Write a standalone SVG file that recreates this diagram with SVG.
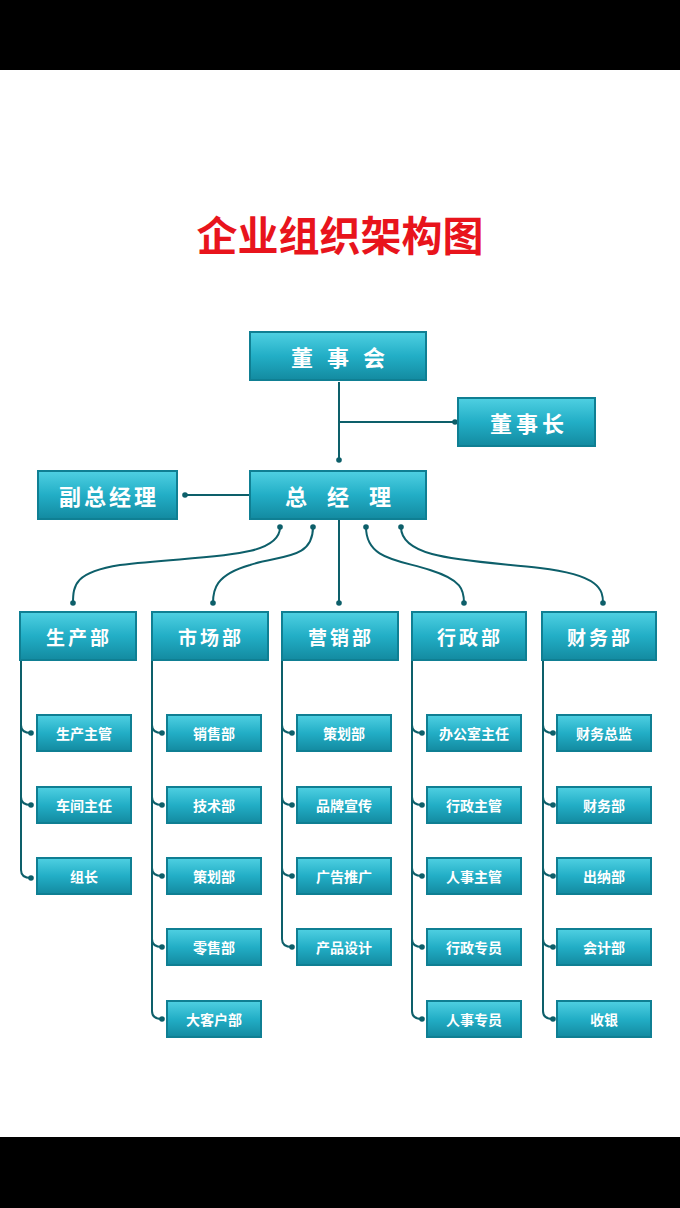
<svg xmlns="http://www.w3.org/2000/svg" width="680" height="1208" viewBox="0 0 680 1208">
<defs>
<linearGradient id="g" x1="0" y1="0" x2="0" y2="1">
<stop offset="0" stop-color="#4fd0e2"/><stop offset="0.5" stop-color="#22aec6"/><stop offset="1" stop-color="#138aa0"/>
</linearGradient>
<marker id="d" markerWidth="6" markerHeight="6" refX="3" refY="3" markerUnits="userSpaceOnUse"><circle cx="3" cy="3" r="2.8" fill="#0d5f6a"/></marker>
</defs>
<style>
.b{fill:url(#g);stroke:#0f7f93;stroke-width:2}
.t{font-family:"Noto Sans CJK SC","Noto Sans",sans-serif;font-weight:bold;fill:#fff;text-anchor:middle;dominant-baseline:central}
.L{font-size:22px}.S{font-size:14px}.M{font-size:19px}
.c{fill:none;stroke:#0d5f6a;stroke-width:2}
</style>
<rect width="680" height="1208" fill="#fff"/>
<rect width="680" height="70" fill="#000"/>
<rect y="1137" width="680" height="71" fill="#000"/>
<text x="340" y="233" font-family="Noto Sans CJK SC,sans-serif" font-weight="bold" font-size="41" fill="#e8141c" text-anchor="middle" dominant-baseline="central">企业组织架构图</text>
<g id="connectors">
<path class="c" d="M339 382V460" marker-end="url(#d)"/>
<path class="c" d="M339 422H455" marker-end="url(#d)"/>
<path class="c" d="M250 495H185" marker-end="url(#d)"/>
<path class="c" d="M280 527C280 560 200 555 120 565C75 572 73 585 73 603" marker-start="url(#d)" marker-end="url(#d)"/>
<path class="c" d="M313 527C313 560 280 555 250 565C215 575 213 590 213 603" marker-start="url(#d)" marker-end="url(#d)"/>
<path class="c" d="M339 519V603" marker-end="url(#d)"/>
<path class="c" d="M366 527C366 560 400 560 430 570C462 580 464 590 464 603" marker-start="url(#d)" marker-end="url(#d)"/>
<path class="c" d="M401 527C401 560 470 560 540 568C600 575 603 590 603 603" marker-start="url(#d)" marker-end="url(#d)"/>
<path class="c" d="M21 660V870Q21 878 31 878" marker-end="url(#d)"/>
<path class="c" d="M21 725Q21 733 31 733" marker-end="url(#d)"/>
<path class="c" d="M21 797Q21 805 31 805" marker-end="url(#d)"/>
<path class="c" d="M152 660V1011Q152 1019 162 1019" marker-end="url(#d)"/>
<path class="c" d="M152 725Q152 733 162 733" marker-end="url(#d)"/>
<path class="c" d="M152 797Q152 805 162 805" marker-end="url(#d)"/>
<path class="c" d="M152 868Q152 876 162 876" marker-end="url(#d)"/>
<path class="c" d="M152 939Q152 947 162 947" marker-end="url(#d)"/>
<path class="c" d="M282 660V939Q282 947 292 947" marker-end="url(#d)"/>
<path class="c" d="M282 725Q282 733 292 733" marker-end="url(#d)"/>
<path class="c" d="M282 797Q282 805 292 805" marker-end="url(#d)"/>
<path class="c" d="M282 868Q282 876 292 876" marker-end="url(#d)"/>
<path class="c" d="M412 660V1011Q412 1019 422 1019" marker-end="url(#d)"/>
<path class="c" d="M412 725Q412 733 422 733" marker-end="url(#d)"/>
<path class="c" d="M412 797Q412 805 422 805" marker-end="url(#d)"/>
<path class="c" d="M412 868Q412 876 422 876" marker-end="url(#d)"/>
<path class="c" d="M412 939Q412 947 422 947" marker-end="url(#d)"/>
<path class="c" d="M543 660V1011Q543 1019 553 1019" marker-end="url(#d)"/>
<path class="c" d="M543 725Q543 733 553 733" marker-end="url(#d)"/>
<path class="c" d="M543 797Q543 805 553 805" marker-end="url(#d)"/>
<path class="c" d="M543 868Q543 876 553 876" marker-end="url(#d)"/>
<path class="c" d="M543 939Q543 947 553 947" marker-end="url(#d)"/>
</g>
<g id="n-board"><rect class="b" x="250" y="332" width="176" height="48"/><text class="t L" x="345" y="356" letter-spacing="14">董事会</text></g>
<g id="n-chair"><rect class="b" x="458" y="398" width="137" height="48"/><text class="t L" x="529" y="422" letter-spacing="4">董事长</text></g>
<g id="n-gm"><rect class="b" x="250" y="471" width="176" height="48"/><text class="t L" x="348" y="495" letter-spacing="20">总经理</text></g>
<g id="n-vgm"><rect class="b" x="38" y="471" width="139" height="48"/><text class="t L" x="109" y="495" letter-spacing="3">副总经理</text></g>
<g id="n-d1"><rect class="b" x="20" y="612" width="116" height="48"/><text class="t M" x="79" y="636" letter-spacing="3">生产部</text></g>
<g id="n-d2"><rect class="b" x="152" y="612" width="116" height="48"/><text class="t M" x="211" y="636" letter-spacing="3">市场部</text></g>
<g id="n-d3"><rect class="b" x="282" y="612" width="116" height="48"/><text class="t M" x="341" y="636" letter-spacing="3">营销部</text></g>
<g id="n-d4"><rect class="b" x="412" y="612" width="114" height="48"/><text class="t M" x="470" y="636" letter-spacing="3">行政部</text></g>
<g id="n-d5"><rect class="b" x="542" y="612" width="114" height="48"/><text class="t M" x="600" y="636" letter-spacing="3">财务部</text></g>
<g id="n-11"><rect class="b" x="37" y="715" width="94" height="36"/><text class="t S" x="84" y="733">生产主管</text></g>
<g id="n-12"><rect class="b" x="37" y="787" width="94" height="36"/><text class="t S" x="84" y="805">车间主任</text></g>
<g id="n-13"><rect class="b" x="37" y="858" width="94" height="36"/><text class="t S" x="84" y="876">组长</text></g>
<g id="n-21"><rect class="b" x="167" y="715" width="94" height="36"/><text class="t S" x="214" y="733">销售部</text></g>
<g id="n-22"><rect class="b" x="167" y="787" width="94" height="36"/><text class="t S" x="214" y="805">技术部</text></g>
<g id="n-23"><rect class="b" x="167" y="858" width="94" height="36"/><text class="t S" x="214" y="876">策划部</text></g>
<g id="n-24"><rect class="b" x="167" y="929" width="94" height="36"/><text class="t S" x="214" y="947">零售部</text></g>
<g id="n-25"><rect class="b" x="167" y="1001" width="94" height="36"/><text class="t S" x="214" y="1019">大客户部</text></g>
<g id="n-31"><rect class="b" x="297" y="715" width="94" height="36"/><text class="t S" x="344" y="733">策划部</text></g>
<g id="n-32"><rect class="b" x="297" y="787" width="94" height="36"/><text class="t S" x="344" y="805">品牌宣传</text></g>
<g id="n-33"><rect class="b" x="297" y="858" width="94" height="36"/><text class="t S" x="344" y="876">广告推广</text></g>
<g id="n-34"><rect class="b" x="297" y="929" width="94" height="36"/><text class="t S" x="344" y="947">产品设计</text></g>
<g id="n-41"><rect class="b" x="427" y="715" width="94" height="36"/><text class="t S" x="474" y="733">办公室主任</text></g>
<g id="n-42"><rect class="b" x="427" y="787" width="94" height="36"/><text class="t S" x="474" y="805">行政主管</text></g>
<g id="n-43"><rect class="b" x="427" y="858" width="94" height="36"/><text class="t S" x="474" y="876">人事主管</text></g>
<g id="n-44"><rect class="b" x="427" y="929" width="94" height="36"/><text class="t S" x="474" y="947">行政专员</text></g>
<g id="n-45"><rect class="b" x="427" y="1001" width="94" height="36"/><text class="t S" x="474" y="1019">人事专员</text></g>
<g id="n-51"><rect class="b" x="557" y="715" width="94" height="36"/><text class="t S" x="604" y="733">财务总监</text></g>
<g id="n-52"><rect class="b" x="557" y="787" width="94" height="36"/><text class="t S" x="604" y="805">财务部</text></g>
<g id="n-53"><rect class="b" x="557" y="858" width="94" height="36"/><text class="t S" x="604" y="876">出纳部</text></g>
<g id="n-54"><rect class="b" x="557" y="929" width="94" height="36"/><text class="t S" x="604" y="947">会计部</text></g>
<g id="n-55"><rect class="b" x="557" y="1001" width="94" height="36"/><text class="t S" x="604" y="1019">收银</text></g>
</svg>
